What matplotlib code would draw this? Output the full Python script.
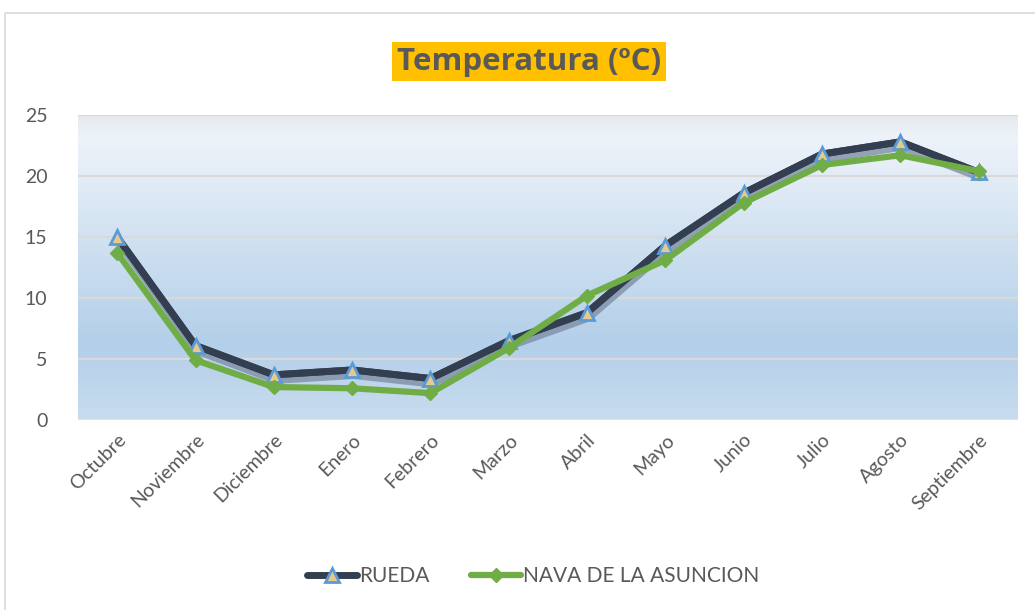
import matplotlib
matplotlib.use("Agg")
import matplotlib.pyplot as plt
import matplotlib.patheffects as pe
from matplotlib.colors import LinearSegmentedColormap
from matplotlib.patches import Rectangle
import numpy as np

plt.rcParams['font.family'] = ['Lato', 'DejaVu Sans']

meses = ["Octubre", "Noviembre", "Diciembre", "Enero", "Febrero", "Marzo",
         "Abril", "Mayo", "Junio", "Julio", "Agosto", "Septiembre"]
rueda = [15.0, 6.1, 3.7, 4.1, 3.4, 6.5, 8.8, 14.3, 18.6, 21.8, 22.8, 20.3]
nava = [13.7, 4.9, 2.7, 2.6, 2.2, 5.9, 10.2, 13.1, 17.8, 20.9, 21.7, 20.4]
yticks = [0, 5, 10, 15, 20, 25]

txt = "#595959"

fig = plt.figure(figsize=(10.35, 6.10), dpi=100)
# outer chart frame
fig.patches.append(Rectangle((0.005, -0.01), 1.2, 0.988, transform=fig.transFigure,
                             fill=False, edgecolor="#d9d9d9", lw=1.2))

ax = fig.add_axes([0.0754, 0.3115, 0.908, 0.5])
x = np.arange(len(meses))

# gradient background
cmap = LinearSegmentedColormap.from_list(
    "bg", [(0.0, "#c9dcee"), (0.25, "#b3cfe9"), (0.7, "#dae7f4"), (0.93, "#eef3fa"), (1.0, "#e6e9ee")])
grad = np.linspace(0, 1, 256).reshape(-1, 1)
ax.imshow(grad, aspect="auto", cmap=cmap, origin="lower",
          extent=[-0.5, 11.5, 0, 25], zorder=0)

for yv in yticks[1:]:
    ax.axhline(yv, color="#d9d9d9", lw=1.5, zorder=1)

# shadow under the RUEDA line (line only, no markers)
ax.plot(x, rueda, color="#333f50", lw=5, solid_capstyle="round", zorder=3,
        path_effects=[pe.SimpleLineShadow(offset=(1, -4), shadow_color="#7f8fa6", alpha=0.8),
                      pe.Normal()])
ax.plot(x, rueda, color="#333f50", lw=5, marker="^", ms=10,
        markerfacecolor="#e6c98f", markeredgecolor="#5b9bd5", markeredgewidth=2,
        solid_capstyle="round", zorder=3.1, label="RUEDA")
ax.plot(x, nava, color="#70ad47", lw=4.5, marker="D", ms=7,
        markerfacecolor="#70ad47", markeredgecolor="#70ad47",
        solid_capstyle="round", zorder=4, label="NAVA DE LA ASUNCION")

ax.set_xlim(-0.5, 11.5)
ax.set_ylim(0, 25)
ax.set_yticks(yticks)
ax.set_xticks(x)
ax.set_xticklabels(meses, rotation=45, ha="right", rotation_mode="anchor")
ax.tick_params(axis="both", length=0, colors=txt, labelsize=14)
ax.tick_params(axis="y", pad=22)
ax.tick_params(axis="x", pad=8)
for s in ax.spines.values():
    s.set_visible(False)
ax.axhline(0, color="#e3e3e3", lw=2, zorder=2)

fig.text(0.511, 0.899, "Temperatura (ºC)", ha="center", va="center", fontsize=22.5,
         fontweight="bold", color=txt, family=["Open Sans", "DejaVu Sans"],
         bbox=dict(boxstyle="square,pad=0.15", facecolor="#ffc000", edgecolor="none"))

leg = fig.legend(loc="center", bbox_to_anchor=(0.515, 0.055), ncol=2, frameon=False,
                 fontsize=15, handlelength=2.4, columnspacing=2.0, handletextpad=0.1)
for t in leg.get_texts():
    t.set_color(txt)

fig.savefig("out.png", dpi=100)
